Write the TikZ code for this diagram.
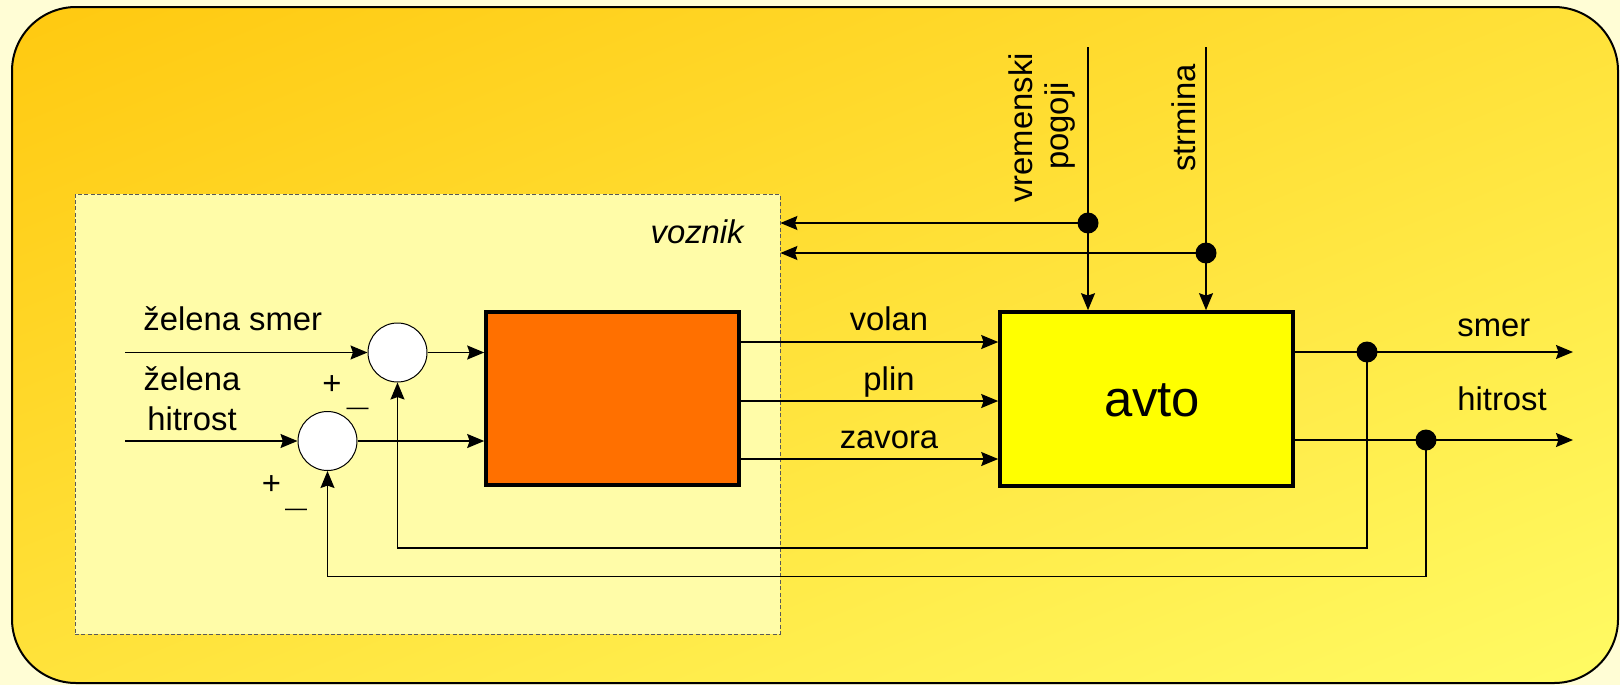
\documentclass[tikz,border=0pt]{standalone}
\usepackage{fontspec}
\setmainfont{Liberation Sans}
\usetikzlibrary{arrows.meta,fit,calc}
\definecolor{bgcream}{RGB}{255,253,213}
\definecolor{gradA}{RGB}{255,201,16}
\definecolor{gradB}{RGB}{255,251,100}
\definecolor{vozfill}{RGB}{255,252,168}
\definecolor{ctrlfill}{RGB}{255,112,0}
\definecolor{avtofill}{RGB}{255,255,0}
\begin{document}
\begin{tikzpicture}[x=0.5pt,y=-0.5pt,
  lbl/.style={font=\fontsize{16.4}{19}\selectfont, inner sep=0pt},
  sgn/.style={font=\fontsize{11}{13}\selectfont, inner sep=0pt},
  arr/.style={line width=0.7pt, -{Stealth[length=8.5pt,width=7pt,inset=1.2pt]}},
  blk/.style={draw=black, line width=1.8pt, inner sep=0pt},
  sumc/.style={circle, draw=black, line width=0.5pt, fill=white, minimum size=29.5pt, inner sep=0pt},
  dot/.style={circle, fill=black, minimum size=10.5pt, inner sep=0pt},
  outerbox/.style={rounded corners=32pt},
]
\useasboundingbox (0,0) rectangle (1620,685);
\fill[bgcream] (0,0) rectangle (1620,685);
\begin{scope}
  \clip[outerbox] (12,7) rectangle (1618,683);
  \begin{scope}[transform canvas={rotate around={22:(815,345)}}]
    \fill[top color=gradA, bottom color=gradB] (-57,-269) rectangle (1687,959);
  \end{scope}
\end{scope}
\draw[outerbox, line width=1pt] (12,7) rectangle (1618,683);

% driver region
\node[fit={(75,194) (780,634)}, inner sep=0pt, draw=black!65, dash pattern=on 2pt off 1.2pt, line width=0.4pt, fill=vozfill] (voz) {};
\node[font=\fontsize{16.4}{19}\selectfont\itshape, inner sep=0pt, anchor=base east] (vozlbl) at (744,243) {voznik};

% blocks
\node[blk, fill=ctrlfill, fit={(486,312) (739,485)}] (ctrl) {};
\node[blk, fill=avtofill, fit={(1000,312) (1293,486)}] (avto) {};
\node[font=\fontsize{25.4}{30}\selectfont, inner sep=0pt, anchor=base] (avtolbl) at (1152,416) {avto};

% summing junctions
\node[sumc] (s1) at (397.5,352.5) {};
\node[sumc] (s2) at (327.5,441) {};

% branch dots
\node[dot] (j1) at (1088,223) {};
\node[dot] (j2) at (1206,253) {};
\node[dot] (j3) at (1367,352) {};
\node[dot] (j4) at (1426,440) {};

% free ends
\coordinate (in1) at (125,352.5);
\coordinate (in2) at (125,441);
\coordinate (t1) at (1088,47);
\coordinate (t2) at (1206,47);
\coordinate (o1) at (1573,352);
\coordinate (o2) at (1573,440);
\coordinate (f1) at (1367,548);
\coordinate (f2) at (1426,576.5);
\coordinate (yv) at (0,342);
\coordinate (yp) at (0,401);
\coordinate (yz) at (0,459);

% connectors
\draw[arr] (in1) -- (s1);
\draw[arr] (in2) -- (s2);
\draw[arr] (s1) -- (ctrl.west |- s1);
\draw[arr] (s2) -- (ctrl.west |- s2);
\draw[arr] (ctrl.east |- yv) -- (avto.west |- yv);
\draw[arr] (ctrl.east |- yp) -- (avto.west |- yp);
\draw[arr] (ctrl.east |- yz) -- (avto.west |- yz);
\draw[arr] (t1) -- (avto.north -| t1);
\draw[arr] (t2) -- (avto.north -| t2);
\draw[arr] (j1.center) -- (voz.east |- j1);
\draw[arr] (j2.center) -- (voz.east |- j2);
\draw[arr] (avto.east |- j3) -- (o1);
\draw[arr] (avto.east |- j4) -- (o2);
\draw[arr] (j3.center) -- (f1) -| (s1.south);
\draw[arr] (j4.center) -- (f2) -| (s2.south);

% labels
\node[lbl, anchor=base west] (lzs) at (143,330) {želena smer};
\node[lbl, anchor=base] (lzh1) at (192,390) {želena};
\node[lbl, anchor=base] (lzh2) at (192,430) {hitrost};
\node[lbl, anchor=base] (lvol) at (889,330) {volan};
\node[lbl, anchor=base] (lplin) at (889,390) {plin};
\node[lbl, anchor=base] (lzav) at (889,448) {zavora};
\node[lbl, anchor=base west] (lsmer) at (1457,336) {smer};
\node[lbl, anchor=base west] (lhit) at (1457,410) {hitrost};
\node[lbl, rotate=90, anchor=base] (lvr) at (1032,128) {vremenski};
\node[lbl, rotate=90, anchor=base] (lpog) at (1068,126) {pogoji};
\node[lbl, rotate=90, anchor=base] (lstr) at (1195,118) {strmina};
\node[lbl, anchor=base] (p1) at (332,394.5) {+};
\node[sgn, anchor=base] (m1) at (357.5,414.5) {—};
\node[lbl, anchor=base] (p2) at (271.5,494) {+};
\node[sgn, anchor=base] (m2) at (296,515.5) {—};
\end{tikzpicture}
\end{document}
